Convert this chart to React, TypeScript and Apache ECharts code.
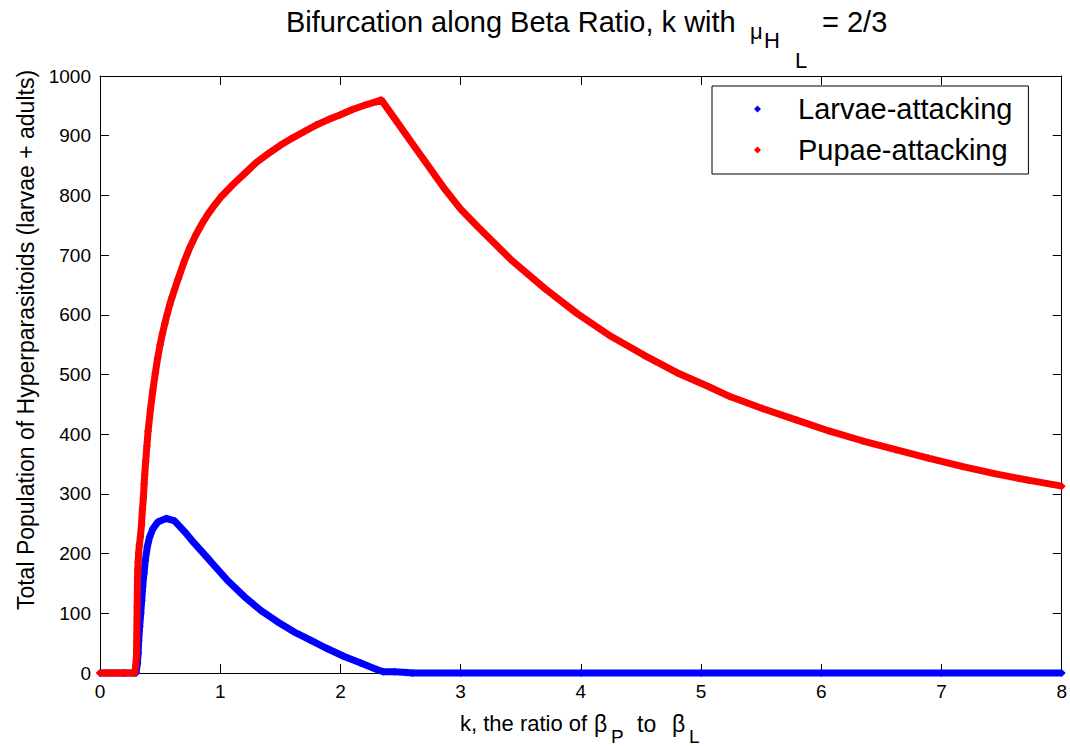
import React, { useEffect, useRef } from "react";
import * as echarts from "echarts";

const FONT = "'Liberation Sans', Arial, Helvetica, sans-serif";

// k values and totals
const larvaeK = [0, 0.1, 0.2, 0.3, 0.311, 0.317, 0.322, 0.33, 0.339, 0.347, 0.355, 0.366, 0.377, 0.394, 0.413, 0.441, 0.482, 0.551, 0.62, 0.703, 0.786, 0.924, 1.061, 1.2, 1.337, 1.475, 1.613, 1.751, 1.889, 2.026, 2.164, 2.302, 2.357, 2.45, 2.55, 2.6, 3, 4, 5, 6, 7, 8];
const larvaeV = [0, 0, 0, 0, 16, 33, 55, 78, 100, 122, 145, 167, 189, 212, 228, 242, 253, 259, 255, 237, 217, 186, 155, 128, 105, 86, 69, 55, 41, 28, 17, 6, 2, 2, 1, 0, 0, 0, 0, 0, 0, 0];

const pupaeK = [0, 0.1, 0.2, 0.29, 0.303, 0.309, 0.312, 0.314, 0.317, 0.322, 0.328, 0.336, 0.345, 0.353, 0.361, 0.367, 0.372, 0.38, 0.39, 0.40, 0.42, 0.44, 0.46, 0.48, 0.50, 0.52, 0.54, 0.56, 0.58, 0.60, 0.62, 0.65, 0.70, 0.75, 0.80, 0.85, 0.90, 0.95, 1.0, 1.1, 1.2, 1.3, 1.4, 1.5, 1.6, 1.7, 1.8, 1.9, 2.0, 2.1, 2.2, 2.3, 2.34, 2.45, 2.59, 2.7, 2.87, 3.0, 3.14, 3.42, 3.7, 3.97, 4.25, 4.52, 4.8, 5.07, 5.24, 5.51, 5.79, 6.07, 6.34, 6.62, 6.89, 7.17, 7.44, 7.72, 8.0];
const pupaeV = [0, 0, 0, 0, 26, 111, 160, 173, 186, 202, 215, 228, 248, 274, 293, 316, 332, 355, 380, 405, 442, 474, 502, 528, 550, 569, 586, 602, 617, 630, 642, 660, 689, 714, 735, 753, 769, 783, 796, 817, 836, 855, 870, 884, 896, 907, 918, 927, 935, 944, 951, 957, 960, 929, 889, 858, 810, 777, 748, 692, 644, 602, 564, 533, 503, 479, 463, 443, 424, 405, 389, 374, 360, 346, 334, 323, 313];

const seriesNames = ["Larvae-attacking", "Pupae-attacking"];
const xTicks = { min: 0, max: 8, interval: 1 };
const yTicks = { min: 0, max: 1000, interval: 100 };

function txt(text: string, x: number, y: number, size: number, extra: any = {}) {
  return {
    type: "text",
    x,
    y,
    silent: true,
    ...extra,
    style: {
      text,
      fontSize: size,
      fontFamily: FONT,
      fill: "#000",
      align: extra.align || "left",
      textAlign: extra.align || "left",
      verticalAlign: "middle",
      textVerticalAlign: "middle",
    },
  };
}

export default function App() {
  const ref = useRef<HTMLDivElement>(null);
  useEffect(() => {
    document.body.style.margin = "0";
    const chart = echarts.init(ref.current!, null, { renderer: "svg" });
    const axisLine = { onZero: false, lineStyle: { color: "#000", width: 1 } };
    const axisTick = { inside: true, length: 9, lineStyle: { color: "#000", width: 1 } };
    const label = { fontSize: 19, color: "#000", fontFamily: FONT, formatter: (v: number) => String(v) };
    chart.setOption({
      animation: false,
      grid: { left: 100, top: 76, width: 967, height: 597, containLabel: false },
      legend: {
        left: 712,
        top: 86,
        orient: "vertical",
        icon: "diamond",
        itemWidth: 7,
        itemHeight: 7,
        itemGap: 11,
        padding: [8, 16, 9, 42],
        borderColor: "#000",
        borderWidth: 1,
        borderRadius: 0,
        backgroundColor: "#fff",
        data: seriesNames,
        textStyle: { fontSize: 29, fontFamily: FONT, color: "#000", lineHeight: 30, padding: [0, 0, 0, 32] },
      },
      xAxis: [
        { type: "value", ...xTicks, position: "bottom", axisLine, axisTick, axisLabel: { ...label, margin: 9 }, splitLine: { show: false } },
        { type: "value", ...xTicks, position: "top", axisLine, axisTick, axisLabel: { show: false }, splitLine: { show: false } },
      ],
      yAxis: [
        { type: "value", ...yTicks, position: "left", axisLine, axisTick, axisLabel: { ...label, margin: 9 }, splitLine: { show: false } },
        { type: "value", ...yTicks, position: "right", axisLine, axisTick, axisLabel: { show: false }, splitLine: { show: false } },
      ],
      series: [
        {
          name: seriesNames[0],
          type: "line",
          data: larvaeK.map((k, i) => [k, larvaeV[i]]),
          color: "#0000ff",
          lineStyle: { width: 7, color: "#0000ff" },
          symbol: "diamond",
          symbolSize: 8,
          showSymbol: true,
          clip: false,
          z: 2,
          emphasis: { disabled: true },
        },
        {
          name: seriesNames[1],
          type: "line",
          data: pupaeK.map((k, i) => [k, pupaeV[i]]),
          color: "#ff0000",
          lineStyle: { width: 7, color: "#ff0000" },
          symbol: "diamond",
          symbolSize: 8,
          showSymbol: true,
          clip: false,
          z: 3,
          emphasis: { disabled: true },
        },
      ],
      graphic: [
        txt("Bifurcation along Beta Ratio, k with", 286, 21.5, 29),
        txt("μ", 750, 31.5, 22),
        txt("H", 764, 40.5, 22),
        txt("L", 795, 60, 22),
        txt("= 2/3", 822, 21.5, 29),
        txt("k, the ratio of", 460, 723.5, 22),
        txt("β", 594, 723.5, 23),
        txt("P", 611, 736, 19),
        txt("to", 637, 723.5, 23),
        txt("β", 672, 723.5, 23),
        txt("L", 689, 736, 19),
        txt("Total Population of Hyperparasitoids (larvae + adults)", 26, 340, 23, { rotation: Math.PI / 2, align: "center" }),
      ],
    });
    return () => chart.dispose();
  }, []);
  return <div ref={ref} style={{ width: 1070, height: 746 }} />;
}
